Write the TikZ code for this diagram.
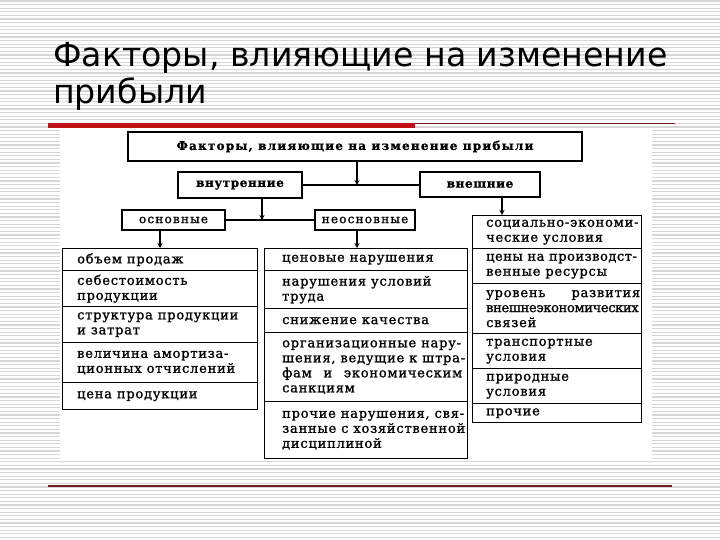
\documentclass[tikz,border=0pt]{standalone}
\usepackage{fontspec}
\setmainfont{DejaVu Serif}
\newfontfamily\titlefont{DejaVu Sans}
\newfontfamily\scanfont[LetterSpace=6,FakeBold=1.2]{DejaVu Serif}
\newfontfamily\headfont[LetterSpace=10,FakeBold=1]{DejaVu Serif}
\newfontfamily\headfontb[LetterSpace=5,FakeBold=1]{DejaVu Serif}
\usetikzlibrary{arrows.meta}
\definecolor{stripegray}{RGB}{214,214,214}
\definecolor{barred}{RGB}{190,18,18}
\definecolor{thinred}{RGB}{110,30,30}
\newcommand{\fullline}[2]{\leavevmode\hbox to #1{#2}}
\begin{document}
\begin{tikzpicture}[x=1pt,y=-1pt,
  stripe/.style={draw=stripegray,line width=1.1pt},
  frame/.style={draw=black,line width=1.4pt,inner sep=0pt},
  cell/.style={frame,anchor=north west},
  head/.style={frame,font=\headfontb\bfseries\fontsize{12}{14}\selectfont},
  headlight/.style={frame,font=\headfont\fontsize{12}{14}\selectfont},
  txt/.style={anchor=west,inner sep=0pt,align=left,font=\scanfont\fontsize{13}{15}\selectfont},
  arr/.style={line width=1.2pt,-{Stealth[length=5pt,width=5pt]}},
  link/.style={line width=1.2pt}]
\useasboundingbox (0,0) rectangle (720,540);
\fill[white] (0,0) rectangle (720,540);
\foreach \i in {0,...,150} \draw[stripe] (0,\i*3.6+1) -- (720,\i*3.6+1);
% title
\node[anchor=base west,inner sep=0pt,font=\titlefont\fontsize{33.2}{36}\selectfont] (t1) at (53,67) {Факторы, влияющие на изменение};
\node[anchor=base west,inner sep=0pt,font=\titlefont\fontsize{33.2}{36}\selectfont] (t2) at (53,104) {прибыли};
% panel
\fill[white] (60,128) rectangle (652,460);
\fill[barred] (48,123) rectangle (415,128);
\draw[thinred,line width=0.9pt] (415,123.5) -- (675,123.5);
\draw[thinred,line width=1.2pt] (48,486) -- (672,486);
% headings
\node[head,font=\headfont\bfseries\fontsize{12}{14}\selectfont,minimum width=454pt,minimum height=29pt] (top) at (355,146.5) {Факторы, влияющие на изменение прибыли};
\node[head,minimum width=124pt,minimum height=26pt] (vn) at (240,185) {внутренние};
\node[head,minimum width=120pt,minimum height=25pt] (vsh) at (480,184.5) {внешние};
\node[headlight,minimum width=103pt,minimum height=20pt] (osn) at (173.5,220) {основные};
\node[headlight,minimum width=100pt,minimum height=20pt] (neo) at (365,220) {неосновные};
% left column
\node[cell,minimum width=195pt,minimum height=22pt] (l1) at (62,248) {};
\node[cell,minimum width=195pt,minimum height=36pt] (l2) at (62,270) {};
\node[cell,minimum width=195pt,minimum height=36pt] (l3) at (62,306) {};
\node[cell,minimum width=195pt,minimum height=40pt] (l4) at (62,342) {};
\node[cell,minimum width=195pt,minimum height=27pt] (l5) at (62,382) {};
\node[txt] at ([xshift=15pt]l1.west) {объем продаж};
\node[txt] at ([xshift=15pt]l2.west) {себестоимость\\продукции};
\node[txt] at ([xshift=15pt]l3.west) {структура продукции\\и затрат};
\node[txt] at ([xshift=15pt]l4.west) {величина амортиза-\\ционных отчислений};
\node[txt] at ([xshift=15pt]l5.west) {цена продукции};
% middle column
\node[cell,minimum width=203pt,minimum height=22pt] (m1) at (264,248) {};
\node[cell,minimum width=203pt,minimum height=38pt] (m2) at (264,270) {};
\node[cell,minimum width=203pt,minimum height=24pt] (m3) at (264,308) {};
\node[cell,minimum width=203pt,minimum height=69pt] (m4) at (264,332) {};
\node[cell,minimum width=203pt,minimum height=57pt] (m5) at (264,401) {};
\node[txt] at ([xshift=18pt]m1.west) {ценовые нарушения};
\node[txt] at ([xshift=18pt]m2.west) {нарушения условий\\труда};
\node[txt] at ([xshift=18pt]m3.west) {снижение качества};
\node[txt] at ([xshift=18pt]m4.west) {организационные нару-\\шения, ведущие к штра-\\\fullline{180pt}{фам\hfill и\hfill экономическим}\\санкциям};
\node[txt] at ([xshift=18pt]m5.west) {прочие нарушения, свя-\\занные с хозяйственной\\дисциплиной};
% right column
\node[cell,minimum width=169pt,minimum height=33pt] (r1) at (472,215) {};
\node[cell,minimum width=169pt,minimum height=35pt] (r2) at (472,248) {};
\node[cell,minimum width=169pt,minimum height=50pt] (r3) at (472,283) {};
\node[cell,minimum width=169pt,minimum height=35pt] (r4) at (472,333) {};
\node[cell,minimum width=169pt,minimum height=35pt] (r5) at (472,368) {};
\node[cell,minimum width=169pt,minimum height=19pt] (r6) at (472,403) {};
\node[txt] at ([xshift=14pt]r1.west) {социально-экономи-\\ческие условия};
\node[txt] at ([xshift=14pt]r2.west) {{\addfontfeature{LetterSpace=4}цены на производст-}\\венные ресурсы};
\node[txt] at ([xshift=14pt]r3.west) {\fullline{154pt}{уровень\hfill развития}\\{\addfontfeature{LetterSpace=-2.5}внешнеэкономических}\\связей};
\node[txt] at ([xshift=14pt]r4.west) {транспортные\\условия};
\node[txt] at ([xshift=14pt]r5.west) {природные\\условия};
\node[txt] at ([xshift=14pt]r6.west) {прочие};
% connectors
\draw[link] (vn.east) -- (vn.east -| vsh.west);
\draw[arr] ([xshift=2pt]top.south) -- ([xshift=2pt]top.south |- vn.east);
\draw[link] (osn.east) -- (neo.west);
\draw[arr] ([xshift=22pt]vn.south) -- ([xshift=22pt]vn.south |- osn.east);
\draw[arr] ([xshift=-13.5pt]osn.south) -- ([xshift=-13.5pt]osn.south |- l1.north);
\draw[arr] ([xshift=-8pt]neo.south) -- ([xshift=-8pt]neo.south |- m1.north);
\draw[arr] ([xshift=22pt]vsh.south) -- ([xshift=22pt]vsh.south |- r1.north);
\end{tikzpicture}
\end{document}
